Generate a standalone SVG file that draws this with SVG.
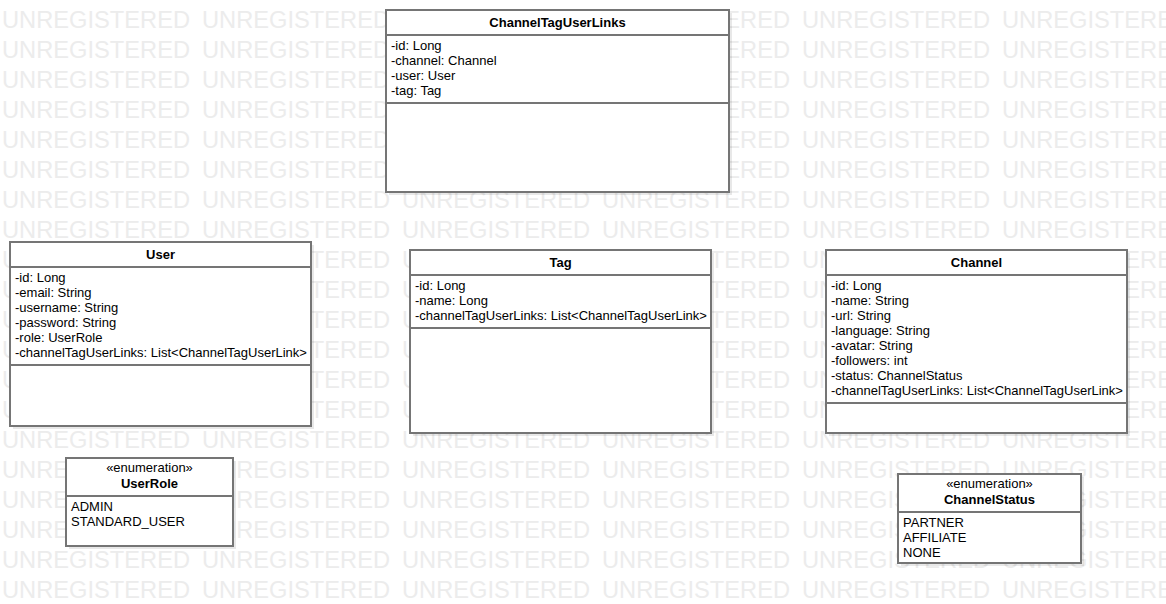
<svg xmlns="http://www.w3.org/2000/svg" xmlns:xlink="http://www.w3.org/1999/xlink" width="1166" height="604" viewBox="0 0 1166 604">
<style>
.wm{font-family:"Liberation Sans",Arial,sans-serif;font-size:23.5px;fill:#ececec}
.box{fill:#ffffff;stroke:#757575;stroke-width:2}
.shadow{fill:#000000;fill-opacity:0.09}
.sep{stroke:#757575;stroke-width:2;fill:none}
.t{font-family:"Liberation Sans",Arial,sans-serif;font-size:13px;fill:#000000}
.b{font-weight:bold;text-anchor:middle}
.c{text-anchor:middle}
</style>
<defs>
<g id="wmrow">
<text class="wm" x="2" y="0" textLength="188" lengthAdjust="spacingAndGlyphs">UNREGISTERED</text>
<text class="wm" x="202" y="0" textLength="188" lengthAdjust="spacingAndGlyphs">UNREGISTERED</text>
<text class="wm" x="402" y="0" textLength="188" lengthAdjust="spacingAndGlyphs">UNREGISTERED</text>
<text class="wm" x="602" y="0" textLength="188" lengthAdjust="spacingAndGlyphs">UNREGISTERED</text>
<text class="wm" x="802" y="0" textLength="188" lengthAdjust="spacingAndGlyphs">UNREGISTERED</text>
<text class="wm" x="1002" y="0" textLength="188" lengthAdjust="spacingAndGlyphs">UNREGISTERED</text>
</g>
</defs>
<rect width="1166" height="604" fill="#ffffff"/>
<g id="watermark">
<use xlink:href="#wmrow" href="#wmrow" y="-2"/>
<use xlink:href="#wmrow" href="#wmrow" y="28"/>
<use xlink:href="#wmrow" href="#wmrow" y="58"/>
<use xlink:href="#wmrow" href="#wmrow" y="88"/>
<use xlink:href="#wmrow" href="#wmrow" y="118"/>
<use xlink:href="#wmrow" href="#wmrow" y="148"/>
<use xlink:href="#wmrow" href="#wmrow" y="178"/>
<use xlink:href="#wmrow" href="#wmrow" y="208"/>
<use xlink:href="#wmrow" href="#wmrow" y="238"/>
<use xlink:href="#wmrow" href="#wmrow" y="268"/>
<use xlink:href="#wmrow" href="#wmrow" y="298"/>
<use xlink:href="#wmrow" href="#wmrow" y="328"/>
<use xlink:href="#wmrow" href="#wmrow" y="358"/>
<use xlink:href="#wmrow" href="#wmrow" y="388"/>
<use xlink:href="#wmrow" href="#wmrow" y="418"/>
<use xlink:href="#wmrow" href="#wmrow" y="448"/>
<use xlink:href="#wmrow" href="#wmrow" y="478"/>
<use xlink:href="#wmrow" href="#wmrow" y="508"/>
<use xlink:href="#wmrow" href="#wmrow" y="538"/>
<use xlink:href="#wmrow" href="#wmrow" y="568"/>
<use xlink:href="#wmrow" href="#wmrow" y="598"/>
</g>
<g id="connectors"></g>
<g id="ChannelTagUserLinks">
<rect class="shadow" x="389" y="13" width="343" height="182"/>
<rect class="box" x="386" y="10" width="343" height="182"/>
<line class="sep" x1="386" y1="35" x2="729" y2="35"/>
<line class="sep" x1="386" y1="103" x2="729" y2="103"/>
<text class="t b" x="557.5" y="27">ChannelTagUserLinks</text>
<text class="t" x="391" y="50">-id: Long</text>
<text class="t" x="391" y="65">-channel: Channel</text>
<text class="t" x="391" y="80">-user: User</text>
<text class="t" x="391" y="95">-tag: Tag</text>
</g>
<g id="User">
<rect class="shadow" x="13" y="245" width="301" height="184"/>
<rect class="box" x="10" y="242" width="301" height="184"/>
<line class="sep" x1="10" y1="267" x2="311" y2="267"/>
<line class="sep" x1="10" y1="365" x2="311" y2="365"/>
<text class="t b" x="160.5" y="259">User</text>
<text class="t" x="15" y="282">-id: Long</text>
<text class="t" x="15" y="297">-email: String</text>
<text class="t" x="15" y="312">-username: String</text>
<text class="t" x="15" y="327">-password: String</text>
<text class="t" x="15" y="342">-role: UserRole</text>
<text class="t" x="15" y="357">-channelTagUserLinks: List&lt;ChannelTagUserLink&gt;</text>
</g>
<g id="Tag">
<rect class="shadow" x="413" y="253" width="301" height="183"/>
<rect class="box" x="410" y="250" width="301" height="183"/>
<line class="sep" x1="410" y1="275" x2="711" y2="275"/>
<line class="sep" x1="410" y1="328" x2="711" y2="328"/>
<text class="t b" x="560.5" y="267">Tag</text>
<text class="t" x="415" y="290">-id: Long</text>
<text class="t" x="415" y="305">-name: Long</text>
<text class="t" x="415" y="320">-channelTagUserLinks: List&lt;ChannelTagUserLink&gt;</text>
</g>
<g id="Channel">
<rect class="shadow" x="829" y="253" width="301" height="183"/>
<rect class="box" x="826" y="250" width="301" height="183"/>
<line class="sep" x1="826" y1="275" x2="1127" y2="275"/>
<line class="sep" x1="826" y1="403" x2="1127" y2="403"/>
<text class="t b" x="976.5" y="267">Channel</text>
<text class="t" x="831" y="290">-id: Long</text>
<text class="t" x="831" y="305">-name: String</text>
<text class="t" x="831" y="320">-url: String</text>
<text class="t" x="831" y="335">-language: String</text>
<text class="t" x="831" y="350">-avatar: String</text>
<text class="t" x="831" y="365">-followers: int</text>
<text class="t" x="831" y="380">-status: ChannelStatus</text>
<text class="t" x="831" y="395">-channelTagUserLinks: List&lt;ChannelTagUserLink&gt;</text>
</g>
<g id="UserRole">
<rect class="shadow" x="69" y="461" width="167" height="88"/>
<rect class="box" x="66" y="458" width="167" height="88"/>
<line class="sep" x1="66" y1="496" x2="233" y2="496"/>
<text class="t c" x="149.5" y="472">«enumeration»</text>
<text class="t b" x="149.5" y="488">UserRole</text>
<text class="t" x="71" y="511">ADMIN</text>
<text class="t" x="71" y="526">STANDARD_USER</text>
</g>
<g id="ChannelStatus">
<rect class="shadow" x="901" y="477" width="183" height="89"/>
<rect class="box" x="898" y="474" width="183" height="89"/>
<line class="sep" x1="898" y1="512" x2="1081" y2="512"/>
<text class="t c" x="989.5" y="488">«enumeration»</text>
<text class="t b" x="989.5" y="504">ChannelStatus</text>
<text class="t" x="903" y="527">PARTNER</text>
<text class="t" x="903" y="542">AFFILIATE</text>
<text class="t" x="903" y="557">NONE</text>
</g>
</svg>
